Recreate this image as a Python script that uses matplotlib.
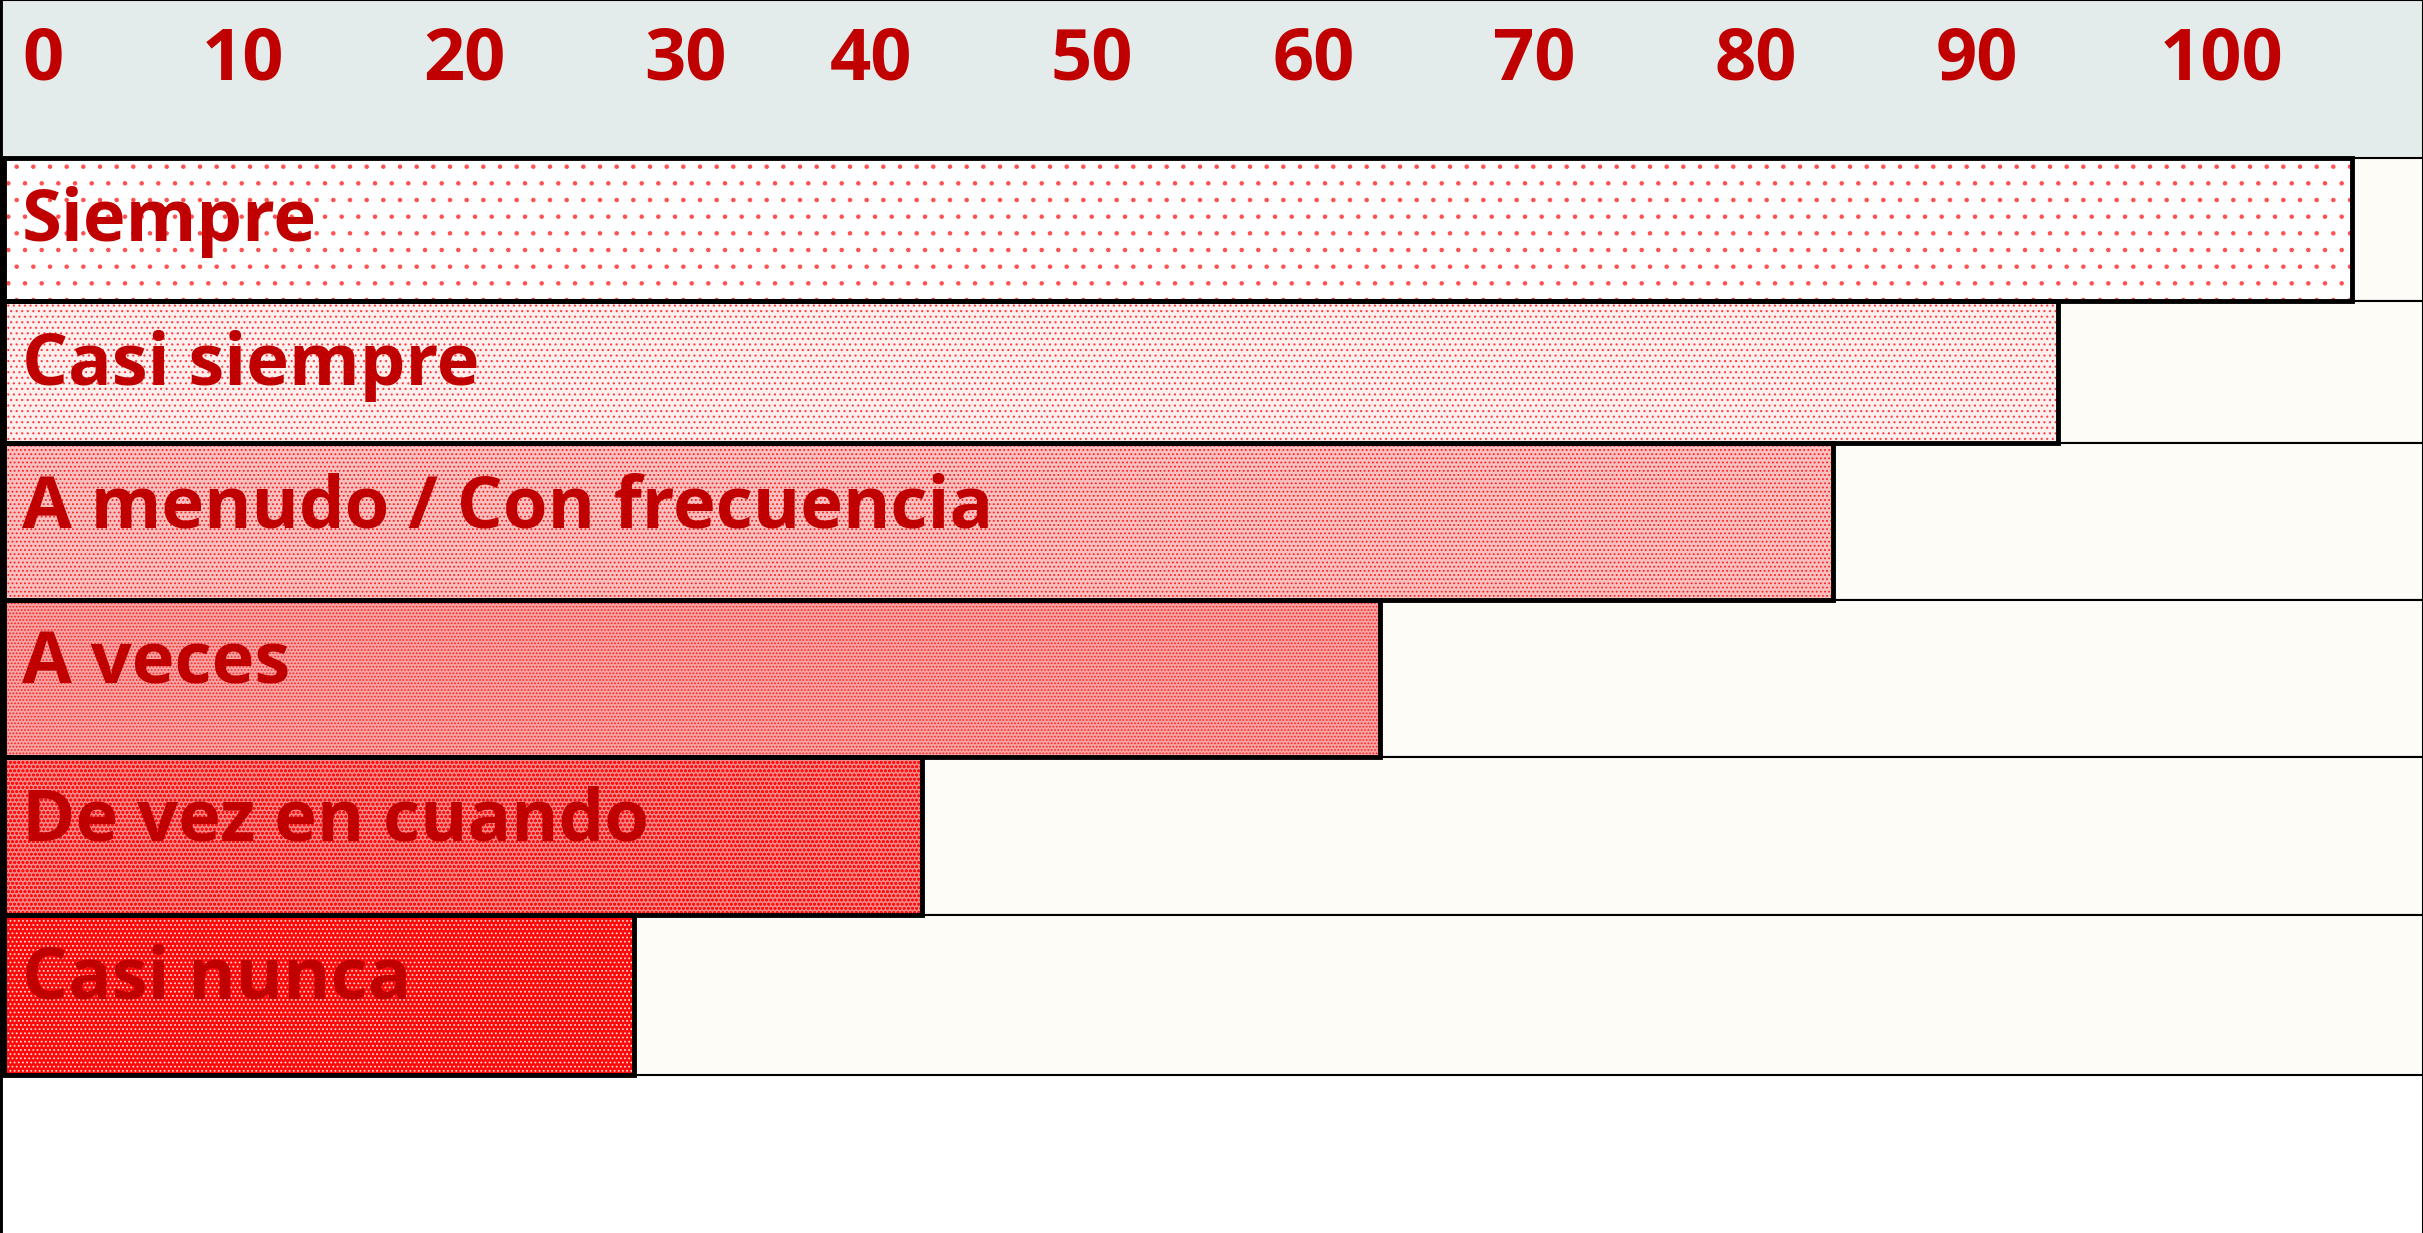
import numpy as np
import matplotlib.pyplot as plt

categories = ['Siempre', 'Casi siempre', 'A menudo / Con frecuencia',
              'A veces', 'De vez en cuando', 'Casi nunca']
values = [106.2, 92.9, 82.7, 62.2, 41.5, 28.5]

tick_labels = ['0', '10', '20', '30', '40', '50', '60', '70', '80', '90', '100']
tick_pos = [1.75, 10.8, 20.8, 30.8, 39.2, 49.2, 59.2, 69.2, 79.2, 89.2, 100.3]

# fill + dot pattern per bar, light to dark
faces = ['#ffffff', '#fff0f0', '#f9c0c0', '#f6a4a4', '#f38a8a', '#ff0808']
hatches = ['.', '...', '....', '.....', 'oooo', '....']
hatch_cols = ['#ff5050', '#ff4040', '#ff2020', '#ff2020', '#ff1010', '#ffd8d8']

red = '#c00000'
xmax = 109.4
font = 'Open Sans'

# row edges (vertical layout, top = 0, bottom = 7.98)
edges = np.array([1.02, 1.95, 2.87, 3.88, 4.90, 5.92, 6.96])
centers = (edges[:-1] + edges[1:]) / 2
heights = np.diff(edges)

plt.rcParams['hatch.linewidth'] = 0.8

fig = plt.figure(figsize=(24.23, 12.33), dpi=100)
ax = fig.add_axes([0, 0, 1, 1])
ax.set_xlim(-0.2, xmax)
ax.set_ylim(7.98, 0)

# header band
ax.axhspan(0, edges[0], color='#e4eceb', zorder=0)
for pos, lab in zip(tick_pos, tick_labels):
    ax.text(pos, 0.39, lab, ha='center', va='center', color=red,
            fontsize=52, fontweight='bold', family=font)

# empty row backgrounds
ax.barh(centers, xmax + 2, left=-1, height=heights, color='#fdfcf6',
        edgecolor='black', linewidth=1.5, zorder=1)

# bars: pattern layer then outline
for i, v in enumerate(values):
    ax.barh(centers[i], v, height=heights[i], color=faces[i], hatch=hatches[i],
            edgecolor=hatch_cols[i], linewidth=0, zorder=2)
ax.barh(centers, values, height=heights, fill=False, edgecolor='black',
        linewidth=3.5, zorder=3)

for i, cat in enumerate(categories):
    ax.text(0.8, edges[i] + 0.42, cat, ha='left', va='center', color=red,
            fontsize=52, fontweight='bold', family=font, zorder=4)

ax.set_xticks([])
ax.set_yticks([])
ax.spines['bottom'].set_visible(False)
ax.spines['left'].set_linewidth(3.5)
ax.spines['top'].set_linewidth(1.5)
ax.spines['right'].set_linewidth(1.5)

fig.savefig('out.png', dpi=100)
